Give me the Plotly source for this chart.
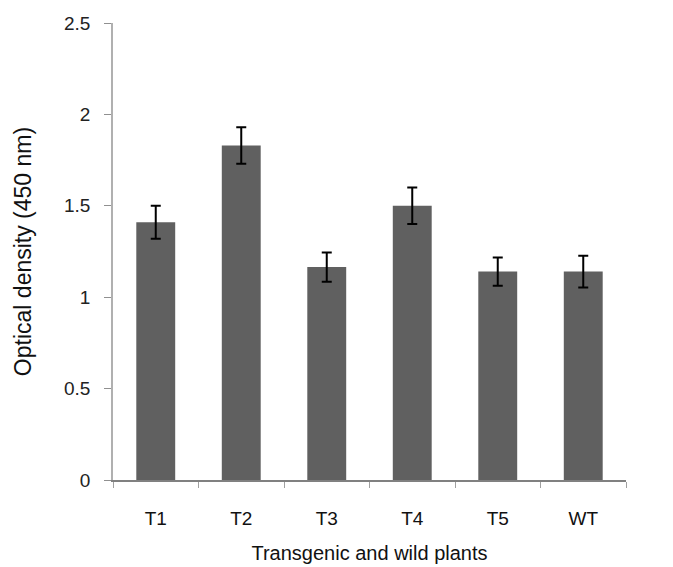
import plotly.graph_objects as go

categories = ["T1", "T2", "T3", "T4", "T5", "WT"]
values = [1.41, 1.83, 1.165, 1.50, 1.14, 1.14]
errors = [0.09, 0.10, 0.08, 0.10, 0.077, 0.087]
y_ticks = [0, 0.5, 1, 1.5, 2, 2.5]
y_tick_labels = ["0", "0.5", "1", "1.5", "2", "2.5"]

fig = go.Figure(go.Bar(
    x=categories, y=values,
    marker=dict(color="#606060", line=dict(width=0)),
    error_y=dict(type="data", array=errors, visible=True,
                 color="#000000", thickness=2, width=5),
))

font_family = "Liberation Sans, Arial, sans-serif"
fig.update_layout(
    width=673, height=567,
    margin=dict(l=105, r=55, t=15, b=95, autoexpand=False),
    paper_bgcolor="white", plot_bgcolor="white",
    bargap=0.545,
    showlegend=False,
    font=dict(family=font_family, color="#222222"),
)
fig.update_xaxes(
    type="category",
    showline=True, linecolor="#808080", linewidth=2,
    ticks="outside", tickson="boundaries", ticklen=6, tickcolor="#a0a0a0",
    tickfont=dict(size=19, color="#111111"),
    ticklabelstandoff=20,
    showgrid=False, zeroline=False,
    title=dict(text="Transgenic and wild plants", font=dict(size=20, color="#111111"), standoff=18),
)
fig.update_yaxes(
    range=[0, 2.5],
    tickvals=y_ticks, ticktext=y_tick_labels,
    showline=True, linecolor="#b0b0b0", linewidth=1.5,
    ticks="outside", ticklen=7, tickcolor="#909090",
    tickfont=dict(size=19, color="#222222"),
    ticklabelstandoff=10,
    showgrid=False, zeroline=False,
    title=dict(text="Optical density (450 nm)", font=dict(size=23, color="#111111"), standoff=26),
)

fig.write_html("out.html")
